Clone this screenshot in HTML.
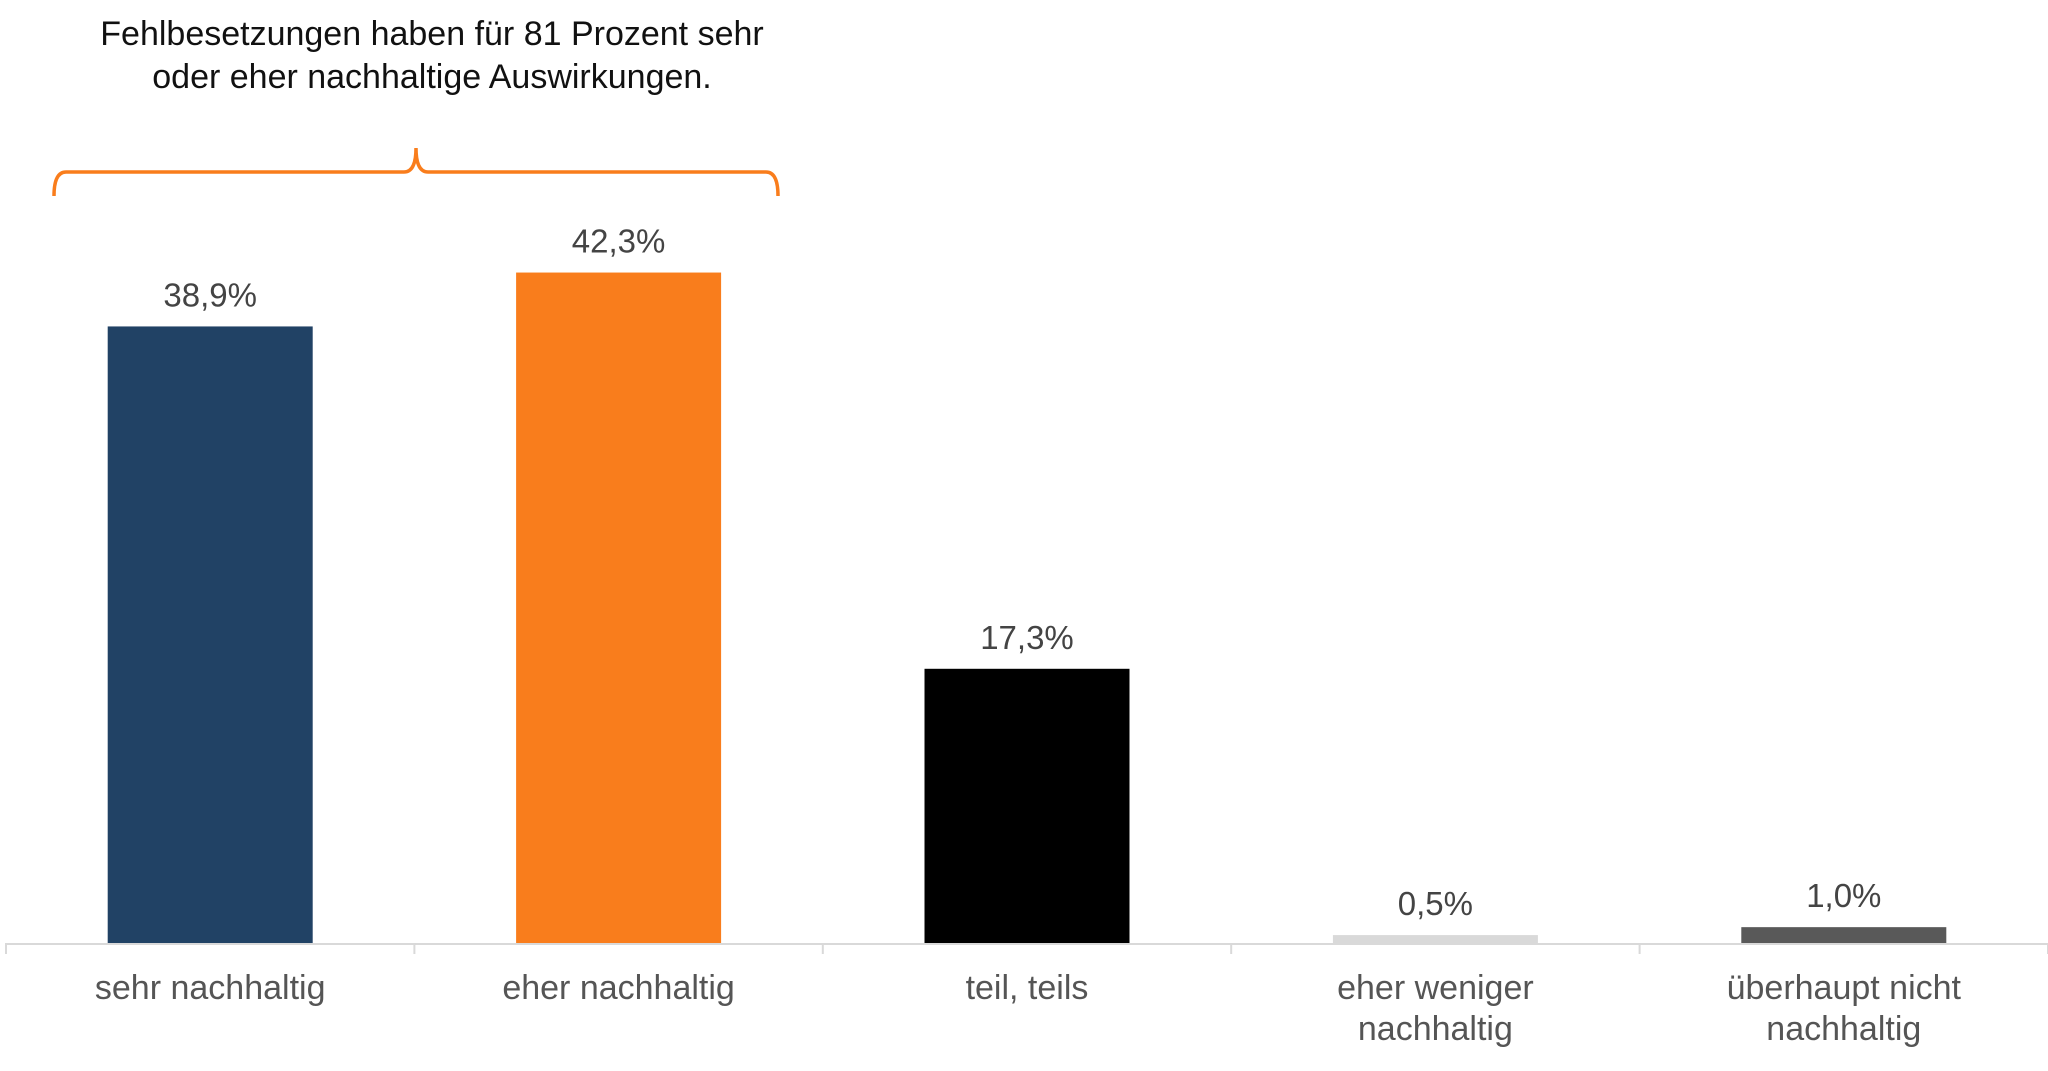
<!DOCTYPE html>
<html><head><meta charset="utf-8"><style>
html,body{margin:0;padding:0;background:#fff;}
svg{display:block;font-family:"Liberation Sans",sans-serif;}
</style></head><body>
<svg id="chart" width="2048" height="1071" viewBox="0 0 2048 1071">
<g font-size="34" fill="#111" text-anchor="middle">
<text x="432" y="45">Fehlbesetzungen haben für 81 Prozent sehr</text>
<text x="432" y="88">oder eher nachhaltige Auswirkungen.</text>
</g>
<path d="M54,196 Q54,172 66,172 L404,172 Q416,172 416,148 Q416,172 428,172 L766,172 Q778,172 778,196" fill="none" stroke="#f97d1c" stroke-width="3.5"/>
<g id="bars"></g>
<g id="axis"></g>
</svg>
<script>
const categories = [["sehr nachhaltig"],["eher nachhaltig"],["teil, teils"],["eher weniger","nachhaltig"],["überhaupt nicht","nachhaltig"]];
const values = [38.9, 42.3, 17.3, 0.5, 1.0];
const valueLabels = ["38,9%","42,3%","17,3%","0,5%","1,0%"];
const colors = ["#214265","#f97d1c","#000000","#d9d9d9","#595959"];
const NS="http://www.w3.org/2000/svg";
const x0=6, x1=2048, baseY=943, pxPer=15.85, barW=205;
const step=(x1-x0)/categories.length;
const xc=i=>x0+step*(i+0.5);
const y=v=>baseY-v*pxPer;
const bars=document.getElementById('bars'), axis=document.getElementById('axis');
function mk(tag,attrs,parent){const e=document.createElementNS(NS,tag);for(const k in attrs)e.setAttribute(k,attrs[k]);parent.appendChild(e);return e;}
values.forEach((v,i)=>{
  const r=mk('rect',{x:xc(i)-barW/2,y:y(v),width:barW,height:baseY-y(v),fill:colors[i]},bars);
  
  
  const t=mk('text',{x:xc(i),y:y(v)-20,'text-anchor':'middle','font-size':33,fill:'#444'},bars);
  t.textContent=valueLabels[i];
  
  
  categories[i].forEach((line,j)=>{
    const c=mk('text',{x:xc(i),y:999+j*41,'text-anchor':'middle','font-size':34,fill:'#555'},axis);
    c.textContent=line;
    
    
  });
});
const ax=mk('line',{x1:x0,x2:x1,y1:baseY+1,y2:baseY+1,stroke:'#d9d9d9','stroke-width':2},axis);


for(let i=0;i<=categories.length;i++){
  const tk=mk('line',{x1:x0+step*i,x2:x0+step*i,y1:baseY,y2:baseY+11,stroke:'#d9d9d9','stroke-width':2},axis);
  
  
}
</script>
</body></html>
